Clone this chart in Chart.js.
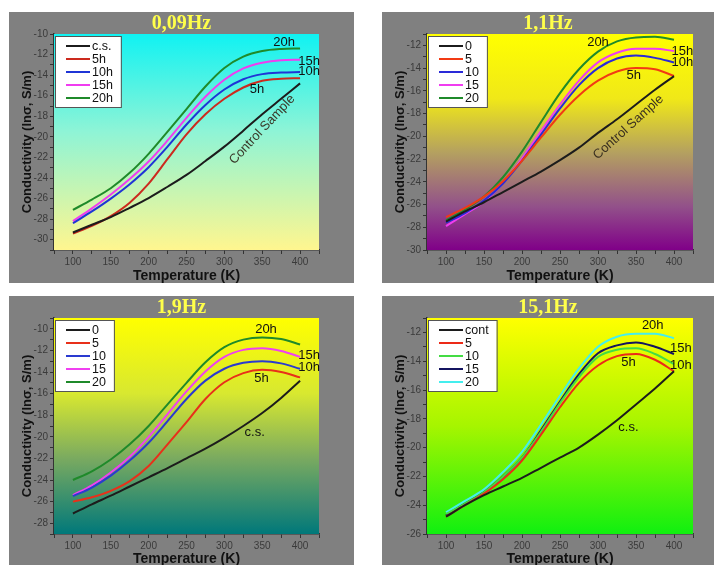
<!DOCTYPE html>
<html>
<head>
<meta charset="utf-8">
<script src="https://cdn.jsdelivr.net/npm/chart.js@4.4.1/dist/chart.umd.min.js"></script>
<style>
  body { margin: 0; background: #fff; width: 718px; height: 565px; overflow: hidden; }
  canvas { position: absolute; background: #808080; }
</style>
</head>
<body>
<canvas id="c1" width="345" height="271" style="left:9px;top:12px"></canvas>
<canvas id="c2" width="332" height="271" style="left:382px;top:12px"></canvas>
<canvas id="c3" width="345" height="269" style="left:9px;top:296px"></canvas>
<canvas id="c4" width="332" height="269" style="left:382px;top:296px"></canvas>
<script>
// temperature points (K)
const temps = [100, 125, 150, 175, 200, 225, 250, 275, 300, 325, 350, 375, 400];

// 0,09Hz
const hz009_cs  = [-29.3, -28.55, -27.8, -26.9, -25.95, -24.85, -23.7, -22.35, -20.95, -19.4, -17.8, -16.3, -14.8];
const hz009_5h  = [-29.4, -28.65, -27.7, -26.4, -24.55, -22.15, -19.75, -17.8, -16.3, -15.2, -14.55, -14.35, -14.3];
const hz009_10h = [-28.4, -27.25, -26.0, -24.6, -22.95, -20.95, -18.8, -16.9, -15.4, -14.4, -13.9, -13.75, -13.7];
const hz009_15h = [-28.2, -26.95, -25.6, -24.1, -22.4, -20.35, -18.15, -16.1, -14.45, -13.35, -12.8, -12.55, -12.5];
const hz009_20h = [-27.1, -26.1, -25.0, -23.5, -21.65, -19.5, -17.3, -15.1, -13.3, -12.2, -11.65, -11.45, -11.4];

// 1,1Hz
const hz11_0  = [-27.5, -26.6, -25.8, -24.9, -24.0, -23.1, -22.1, -21.0, -19.7, -18.5, -17.2, -15.9, -14.7];
const hz11_5  = [-27.1, -26.3, -25.3, -23.95, -22.15, -20.1, -18.1, -16.4, -15.1, -14.3, -14.0, -14.1, -14.7];
const hz11_10 = [-27.6, -26.75, -25.65, -24.15, -22.15, -19.85, -17.55, -15.5, -14.0, -13.15, -12.9, -13.1, -13.5];
const hz11_15 = [-27.9, -26.85, -25.75, -24.1, -21.95, -19.55, -17.2, -15.1, -13.5, -12.65, -12.3, -12.3, -12.5];
const hz11_20 = [-27.4, -26.45, -25.3, -23.6, -21.35, -18.75, -16.2, -14.1, -12.55, -11.65, -11.3, -11.25, -11.5];

// 1,9Hz
const hz19_0  = [-27.1, -26.25, -25.45, -24.6, -23.75, -22.9, -22.0, -21.1, -20.1, -19.0, -17.8, -16.4, -14.8];
const hz19_5  = [-26.0, -25.6, -25.0, -24.1, -22.7, -20.7, -18.65, -16.5, -14.95, -14.1, -13.8, -14.0, -14.5];
const hz19_10 = [-25.5, -24.7, -23.6, -22.2, -20.55, -18.55, -16.5, -14.8, -13.7, -13.15, -13.0, -13.2, -13.7];
const hz19_15 = [-25.4, -24.5, -23.3, -21.85, -20.0, -17.9, -15.8, -13.95, -12.6, -11.95, -11.8, -12.05, -12.6];
const hz19_20 = [-24.0, -23.2, -22.1, -20.7, -19.0, -17.0, -15.0, -13.1, -11.7, -11.0, -10.8, -10.95, -11.45];

// 15,1Hz
const hz151_cont = [-24.8, -24.0, -23.3, -22.7, -22.1, -21.4, -20.7, -20.0, -19.1, -18.1, -17.0, -15.9, -14.7];
const hz151_5    = [-24.8, -24.0, -23.2, -22.2, -20.9, -19.1, -17.2, -15.5, -14.3, -13.65, -13.5, -13.9, -14.7];
const hz151_10   = [-24.6, -23.9, -23.1, -22.0, -20.7, -18.9, -16.9, -15.1, -13.7, -13.2, -13.1, -13.5, -14.2];
const hz151_15   = [-24.7, -23.9, -23.1, -22.0, -20.7, -18.8, -16.8, -14.9, -13.45, -12.9, -12.7, -13.0, -13.5];
const hz151_20   = [-24.5, -23.7, -22.9, -21.7, -20.3, -18.4, -16.4, -14.5, -13.0, -12.3, -12.1, -12.1, -12.4];

const panels = [
  {
    id: "c1", title: "0,09Hz", ymin: -31, ymax: -10, padRight: 35,
    names: ["c.s.", "5h", "10h", "15h", "20h"],
    colors: ["#1c1c1c", "#cc2a1e", "#1f35d6", "#f03cf0", "#1f8a2a"],
    series: [hz009_cs, hz009_5h, hz009_10h, hz009_15h, hz009_20h],
    grad: [[0, "#10f2f2"], [0.45, "#8ef4d6"], [1, "#fff68f"]],
    notes: [
      { t: "20h", x: 379, y: -10.8 }, { t: "15h", x: 412, y: -12.65 },
      { t: "10h", x: 412, y: -13.6 }, { t: "5h", x: 343, y: -15.4 },
      { t: "Control Sample", x: 350, y: -19.3, rot: -47, color: "#3a3a2a" }
    ]
  },
  {
    id: "c2", title: "1,1Hz", ymin: -30, ymax: -11, padRight: 21,
    names: ["0", "5", "10", "15", "20"],
    colors: ["#1c1c1c", "#f23a14", "#2a2ad8", "#f03cf0", "#1f8a2a"],
    series: [hz11_0, hz11_5, hz11_10, hz11_15, hz11_20],
    grad: [[0, "#ffff00"], [0.3, "#f0e818"], [0.55, "#b4a060"], [0.8, "#92508a"], [1, "#800088"]],
    notes: [
      { t: "20h", x: 300, y: -11.7 }, { t: "15h", x: 411, y: -12.5 },
      { t: "10h", x: 411, y: -13.5 }, { t: "5h", x: 347, y: -14.65 },
      { t: "Control Sample", x: 340, y: -19.2, rot: -42, color: "#3a3020" }
    ]
  },
  {
    id: "c3", title: "1,9Hz", ymin: -29, ymax: -9, padRight: 35,
    names: ["0", "5", "10", "15", "20"],
    colors: ["#1c1c1c", "#e8301a", "#2a3ad0", "#f040f0", "#1f8a2a"],
    series: [hz19_0, hz19_5, hz19_10, hz19_15, hz19_20],
    grad: [[0, "#ffff00"], [0.35, "#d8e830"], [0.65, "#7aaa60"], [1, "#00787a"]],
    notes: [
      { t: "20h", x: 355, y: -10.1 }, { t: "15h", x: 412, y: -12.5 },
      { t: "10h", x: 412, y: -13.6 }, { t: "5h", x: 349, y: -14.6 },
      { t: "c.s.", x: 340, y: -19.6 }
    ]
  },
  {
    id: "c4", title: "15,1Hz", ymin: -26, ymax: -11, padRight: 21,
    names: ["cont", "5", "10", "15", "20"],
    colors: ["#1c1c1c", "#ec2a18", "#44dc44", "#141460", "#44eeee"],
    series: [hz151_cont, hz151_5, hz151_10, hz151_15, hz151_20],
    grad: [[0, "#ffff00"], [0.5, "#a6f500"], [1, "#10f010"]],
    notes: [
      { t: "20h", x: 372, y: -11.5 }, { t: "15h", x: 409, y: -13.1 },
      { t: "10h", x: 409, y: -14.3 }, { t: "5h", x: 340, y: -14.1 },
      { t: "c.s.", x: 340, y: -18.6 }
    ]
  }
];

// gradient background, title, legend box and curve labels
const decor = {
  id: "decor",
  beforeDatasetsDraw(chart, args, opts) {
    const a = chart.chartArea, ctx = chart.ctx;
    const g = ctx.createLinearGradient(0, a.top, 0, a.bottom);
    opts.grad.forEach(s => g.addColorStop(s[0], s[1]));
    ctx.save();
    ctx.fillStyle = g;
    ctx.fillRect(a.left, a.top, a.right - a.left, a.bottom - a.top);
    ctx.restore();
  },
  afterDatasetsDraw(chart, args, opts) {
    const a = chart.chartArea, ctx = chart.ctx;
    const xs = chart.scales.x, ys = chart.scales.y;
    ctx.save();
    // title
    ctx.font = 'bold 20px "Liberation Serif"';
    ctx.fillStyle = "#ffff4a";
    ctx.textAlign = "center";
    ctx.textBaseline = "middle";
    ctx.fillText(opts.title, chart.width / 2, 12);

    // curve labels
    ctx.font = '13px "Liberation Sans"';
    opts.notes.forEach(n => {
      ctx.save();
      ctx.translate(xs.getPixelForValue(n.x), ys.getPixelForValue(n.y));
      ctx.rotate((n.rot || 0) * Math.PI / 180);
      ctx.fillStyle = n.color || "#111";
      ctx.fillText(n.t, 0, 0);
      ctx.restore();
    });

    // legend
    ctx.font = '12.5px "Liberation Sans"';
    const ds = chart.data.datasets;
    let w = 0;
    ds.forEach(d => { w = Math.max(w, ctx.measureText(d.label).width); });
    const bx = a.left + 1, by = a.top + 2, row = 13;
    const bw = 38 + w + 7, bh = ds.length * row + 6;
    ctx.fillStyle = "#fff";
    ctx.fillRect(bx, by, bw, bh);
    ctx.strokeStyle = "#555";
    ctx.lineWidth = 1;
    ctx.strokeRect(bx + 0.5, by + 0.5, bw, bh);
    ctx.textAlign = "left";
    ds.forEach((d, i) => {
      const y = by + 10 + i * row;
      ctx.strokeStyle = d.borderColor;
      ctx.lineWidth = 2;
      ctx.beginPath();
      ctx.moveTo(bx + 11, y);
      ctx.lineTo(bx + 35, y);
      ctx.stroke();
      ctx.fillStyle = "#111";
      ctx.fillText(d.label, bx + 37, y + 1);
    });
    ctx.restore();
  }
};

panels.forEach((p, k) => {
  const bottomRow = k >= 2;
  const datasets = p.series.map((vals, i) => ({
    label: p.names[i],
    data: vals.map((v, j) => ({ x: temps[j], y: v })),
    borderColor: p.colors[i],
    borderWidth: 2,
    pointRadius: 0,
    cubicInterpolationMode: "monotone",
    fill: false
  }));
  new Chart(document.getElementById(p.id), {
    type: "line",
    data: { datasets: datasets },
    plugins: [decor],
    options: {
      responsive: false,
      animation: false,
      layout: { padding: { top: 22, right: p.padRight, left: 0, bottom: 0 } },
      plugins: {
        legend: { display: false },
        tooltip: { enabled: false },
        decor: { title: p.title, grad: p.grad, notes: p.notes }
      },
      scales: {
        x: {
          type: "linear", min: 75, max: 425,
          afterFit: s => { s.height = bottomRow ? 31 : 33; },
          border: { color: "#333", width: 1.5 },
          grid: { drawOnChartArea: false, tickLength: 4, color: "#333" },
          ticks: {
            stepSize: 25, autoSkip: false, maxRotation: 0, padding: 2,
            color: "#3a3a3a", font: { family: "Liberation Sans", size: 10 },
            callback: v => (v % 50 === 0 ? v : "")
          },
          title: {
            display: true, text: "Temperature (K)", color: "#111",
            font: { family: "Liberation Sans", size: 14, weight: "bold" },
            padding: { top: 0, bottom: bottomRow ? -3 : -2 }
          }
        },
        y: {
          min: p.ymin, max: p.ymax,
          afterFit: s => { s.width = 45; },
          border: { color: "#333", width: 1.5 },
          grid: { drawOnChartArea: false, tickLength: 4, color: "#333" },
          ticks: {
            stepSize: 1, autoSkip: false, padding: 2,
            color: "#3a3a3a", font: { family: "Liberation Sans", size: 10 },
            callback: v => (v % 2 === 0 ? v : "")
          },
          title: {
            display: true, text: "Conductivity (lnσ, S/m)", color: "#111",
            font: { family: "Liberation Sans", size: 13, weight: "bold" },
            padding: { top: 11, bottom: 0 }
          }
        }
      }
    }
  });
});
</script>
</body>
</html>
